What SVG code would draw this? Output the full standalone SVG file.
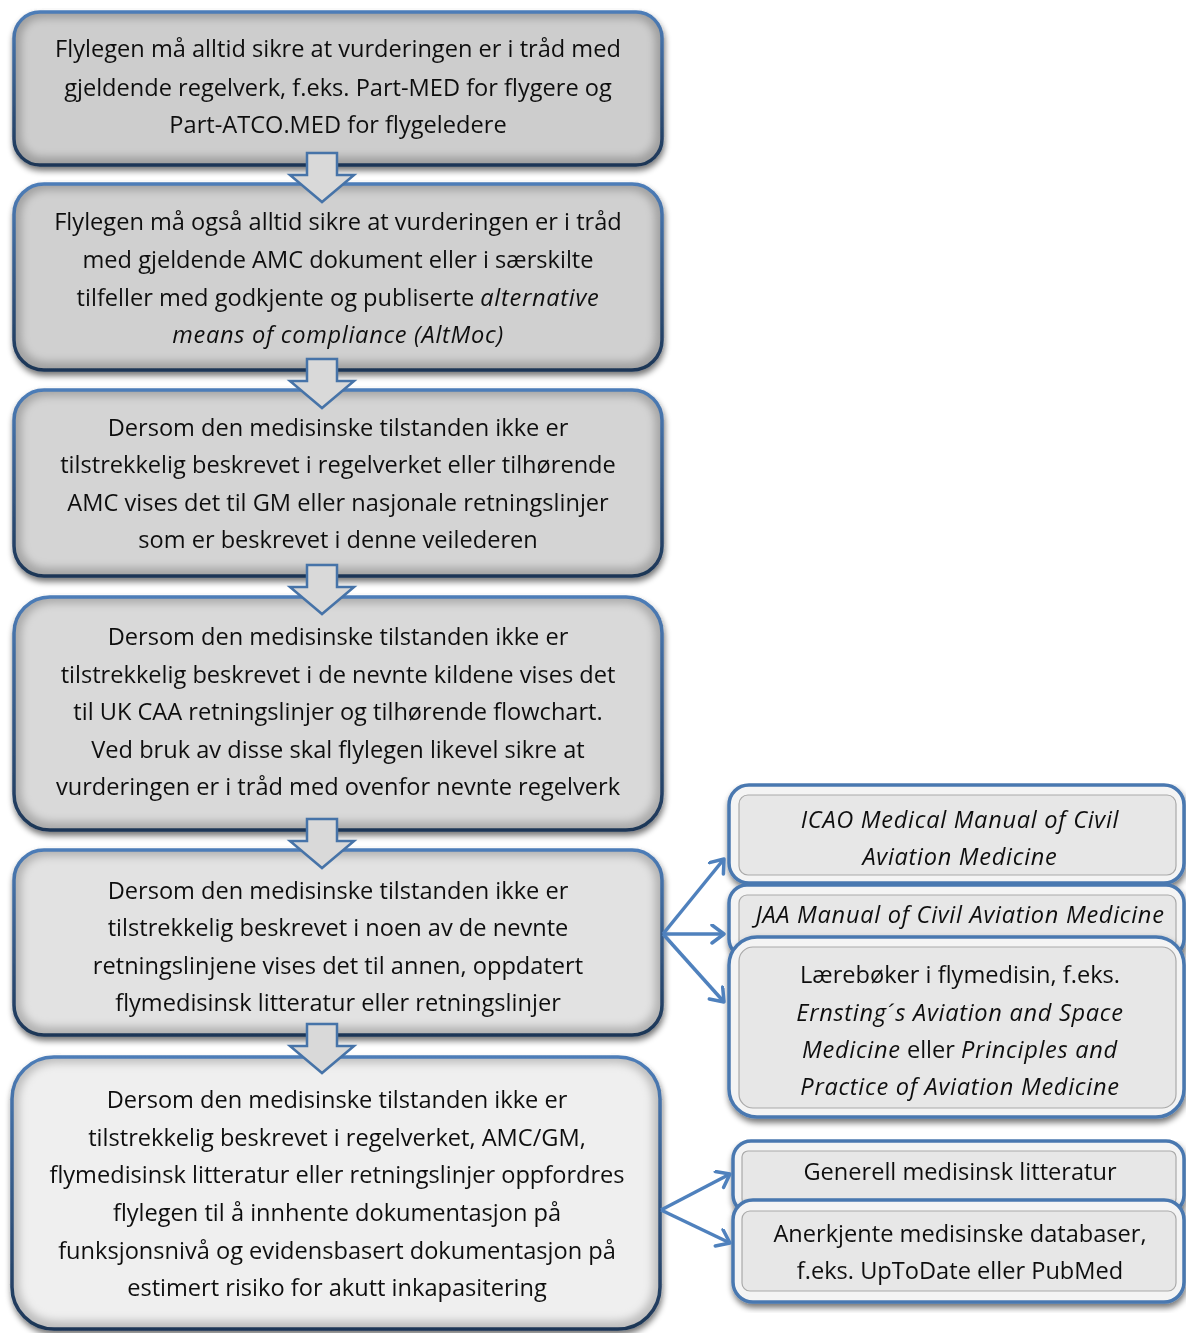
<svg xmlns="http://www.w3.org/2000/svg" width="1186" height="1333" viewBox="0 0 1186 1333">
<defs>
  <style>
    .t{font-family:"Open Sans","Noto Sans","Liberation Sans",sans-serif;font-size:23.6px;fill:#111111;text-anchor:middle}
    .i{font-style:italic;letter-spacing:0.7px}
    .acc{font-family:"Liberation Sans",sans-serif}
    .edge{fill:none;stroke:url(#blueStroke);stroke-width:3.5}
    .redge{fill:none;stroke:#4a78b0;stroke-width:3.5}
    .rin{stroke:#a9a9a9;stroke-width:1.2}
    .conn{fill:none;stroke:#4f81bd;stroke-width:3.5;marker-end:url(#open)}
    .dn{fill:#d9d9d9;stroke:#4673a8;stroke-width:2.5;stroke-linejoin:miter}
  </style>
  <linearGradient id="blueStroke" x1="0" y1="0" x2="0" y2="1">
    <stop offset="0" stop-color="#4d7db8"/>
    <stop offset="1" stop-color="#1d3656"/>
  </linearGradient>
  <filter id="shadow" x="-5%" y="-5%" width="110%" height="115%">
    <feGaussianBlur in="SourceAlpha" stdDeviation="3"/>
    <feOffset dx="1" dy="4" result="b"/>
    <feComponentTransfer><feFuncA type="linear" slope="0.55"/></feComponentTransfer>
    <feMerge><feMergeNode/><feMergeNode in="SourceGraphic"/></feMerge>
  </filter>
  <filter id="soft" x="-10%" y="-10%" width="120%" height="120%">
    <feGaussianBlur stdDeviation="4"/>
  </filter>
  <marker id="open" markerUnits="userSpaceOnUse" markerWidth="24" markerHeight="24" refX="14" refY="10" orient="auto">
    <path d="M2,1 L14,10 L2,19" fill="none" stroke="#4f81bd" stroke-width="3.5" stroke-linecap="round" stroke-linejoin="round"/>
  </marker>
  <path id="down" d="M-15,0 H15 V22 H32 L0,49 L-32,22 H-15 Z"/>
</defs>

<rect width="1186" height="1333" fill="#ffffff"/>

<!-- Left column -->
<g id="box1" filter="url(#shadow)">
  <rect x="14" y="12" width="648" height="153" rx="26" fill="#9d9d9d"/>
  <rect x="21" y="18" width="634" height="139" rx="21" fill="#cdcdcd" filter="url(#soft)"/>
  <rect x="14" y="12" width="648" height="153" rx="26" class="edge"/>
  <text class="t" x="338" y="57">Flylegen må alltid sikre at vurderingen er i tråd med</text>
  <text class="t" x="338" y="96">gjeldende regelverk, f.eks. Part-MED for flygere og</text>
  <text class="t" x="338" y="133">Part-ATCO.MED for flygeledere</text>
</g>

<g id="box2" filter="url(#shadow)">
  <rect x="14" y="184" width="648" height="186" rx="30" fill="#a0a0a0"/>
  <rect x="21" y="190" width="634" height="172" rx="25" fill="#d0d0d0" filter="url(#soft)"/>
  <rect x="14" y="184" width="648" height="186" rx="30" class="edge"/>
  <text class="t" x="338" y="230">Flylegen må også alltid sikre at vurderingen er i tråd</text>
  <text class="t" x="338" y="268">med gjeldende AMC dokument eller i særskilte</text>
  <text class="t" x="338" y="306">tilfeller med godkjente og publiserte <tspan class="i">alternative</tspan></text>
  <text class="t i" x="338" y="343">means of compliance (AltMoc)</text>
</g>

<g id="box3" filter="url(#shadow)">
  <rect x="14" y="390" width="648" height="186" rx="30" fill="#a4a4a4"/>
  <rect x="21" y="396" width="634" height="172" rx="25" fill="#d4d4d4" filter="url(#soft)"/>
  <rect x="14" y="390" width="648" height="186" rx="30" class="edge"/>
  <text class="t" x="338" y="436">Dersom den medisinske tilstanden ikke er</text>
  <text class="t" x="338" y="473">tilstrekkelig beskrevet i regelverket eller tilhørende</text>
  <text class="t" x="338" y="511">AMC vises det til GM eller nasjonale retningslinjer</text>
  <text class="t" x="338" y="548">som er beskrevet i denne veilederen</text>
</g>

<g id="box4" filter="url(#shadow)">
  <rect x="14" y="597" width="648" height="233" rx="36" fill="#a9a9a9"/>
  <rect x="21" y="603" width="634" height="219" rx="31" fill="#d9d9d9" filter="url(#soft)"/>
  <rect x="14" y="597" width="648" height="233" rx="36" class="edge"/>
  <text class="t" x="338" y="645">Dersom den medisinske tilstanden ikke er</text>
  <text class="t" x="338" y="683">tilstrekkelig beskrevet i de nevnte kildene vises det</text>
  <text class="t" x="338" y="720">til UK CAA retningslinjer og tilhørende flowchart.</text>
  <text class="t" x="338" y="758">Ved bruk av disse skal flylegen likevel sikre at</text>
  <text class="t" x="338" y="795">vurderingen er i tråd med ovenfor nevnte regelverk</text>
</g>

<g id="box5" filter="url(#shadow)">
  <rect x="14" y="850" width="648" height="185" rx="30" fill="#b1b1b1"/>
  <rect x="21" y="856" width="634" height="171" rx="25" fill="#e2e2e2" filter="url(#soft)"/>
  <rect x="14" y="850" width="648" height="185" rx="30" class="edge"/>
  <text class="t" x="338" y="899">Dersom den medisinske tilstanden ikke er</text>
  <text class="t" x="338" y="936">tilstrekkelig beskrevet i noen av de nevnte</text>
  <text class="t" x="338" y="974">retningslinjene vises det til annen, oppdatert</text>
  <text class="t" x="338" y="1011">flymedisinsk litteratur eller retningslinjer</text>
</g>

<g id="box6" filter="url(#shadow)">
  <rect x="12" y="1057" width="648" height="272" rx="42" fill="#bdbdbd"/>
  <rect x="19" y="1063" width="634" height="258" rx="37" fill="#efefef" filter="url(#soft)"/>
  <rect x="12" y="1057" width="648" height="272" rx="42" class="edge"/>
  <text class="t" x="337" y="1108">Dersom den medisinske tilstanden ikke er</text>
  <text class="t" x="337" y="1146">tilstrekkelig beskrevet i regelverket, AMC/GM,</text>
  <text class="t" x="337" y="1183">flymedisinsk litteratur eller retningslinjer oppfordres</text>
  <text class="t" x="337" y="1221">flylegen til å innhente dokumentasjon på</text>
  <text class="t" x="337" y="1259">funksjonsnivå og evidensbasert dokumentasjon på</text>
  <text class="t" x="337" y="1296">estimert risiko for akutt inkapasitering</text>
</g>

<!-- Right column -->
<g id="icao" filter="url(#shadow)">
  <rect x="729" y="785" width="455" height="98" rx="20" fill="#f4f4f4"/>
  <rect x="739" y="795" width="437" height="80" rx="9" fill="#e7e7e7" class="rin"/>
  <rect x="729" y="785" width="455" height="98" rx="20" class="redge"/>
  <text class="t i" x="960" y="828">ICAO Medical Manual of Civil</text>
  <text class="t i" x="960" y="865">Aviation Medicine</text>
</g>

<g id="jaa" filter="url(#shadow)">
  <rect x="729" y="885" width="455" height="72" rx="18" fill="#f4f4f4"/>
  <rect x="739" y="895" width="437" height="54" rx="8" fill="#e7e7e7" class="rin"/>
  <rect x="729" y="885" width="455" height="72" rx="18" class="redge"/>
  <text class="t i" x="960" y="923">JAA Manual of Civil Aviation Medicine</text>
</g>

<g id="laereboker" filter="url(#shadow)">
  <rect x="729" y="937" width="455" height="180" rx="28" fill="#f4f4f4"/>
  <rect x="739" y="947" width="437" height="161" rx="14" fill="#e7e7e7" class="rin"/>
  <rect x="729" y="937" width="455" height="180" rx="28" class="redge"/>
  <text class="t" x="960" y="983">Lærebøker i flymedisin, f.eks.</text>
  <text class="t i" x="960" y="1021">Ernsting<tspan class="acc">´</tspan>s Aviation and Space</text>
  <text class="t" x="960" y="1058"><tspan class="i">Medicine</tspan> eller <tspan class="i">Principles and</tspan></text>
  <text class="t i" x="960" y="1095">Practice of Aviation Medicine</text>
</g>

<g id="generell" filter="url(#shadow)">
  <rect x="733" y="1141" width="451" height="72" rx="18" fill="#f4f4f4"/>
  <rect x="742" y="1151" width="434" height="54" rx="6" fill="#e7e7e7" class="rin"/>
  <rect x="733" y="1141" width="451" height="72" rx="18" class="redge"/>
  <text class="t" x="960" y="1180">Generell medisinsk litteratur</text>
</g>

<g id="anerkjente" filter="url(#shadow)">
  <rect x="733" y="1200" width="451" height="102" rx="20" fill="#f4f4f4"/>
  <rect x="742" y="1211" width="434" height="80" rx="8" fill="#e7e7e7" class="rin"/>
  <rect x="733" y="1200" width="451" height="102" rx="20" class="redge"/>
  <text class="t" x="960" y="1242">Anerkjente medisinske databaser,</text>
  <text class="t" x="960" y="1279">f.eks. UpToDate eller PubMed</text>
</g>

<!-- Connectors -->
<g id="connectors">
  <use href="#down" class="dn" x="322" y="153"/>
  <use href="#down" class="dn" x="322" y="359"/>
  <use href="#down" class="dn" x="322" y="565"/>
  <use href="#down" class="dn" x="322" y="819"/>
  <use href="#down" class="dn" x="322" y="1024"/>
  <line class="conn" x1="663" y1="934" x2="724" y2="859"/>
  <line class="conn" x1="663" y1="934" x2="724" y2="934"/>
  <line class="conn" x1="663" y1="934" x2="724" y2="1002"/>
  <line class="conn" x1="661" y1="1210" x2="730" y2="1174"/>
  <line class="conn" x1="661" y1="1210" x2="730" y2="1243"/>
</g>
</svg>
